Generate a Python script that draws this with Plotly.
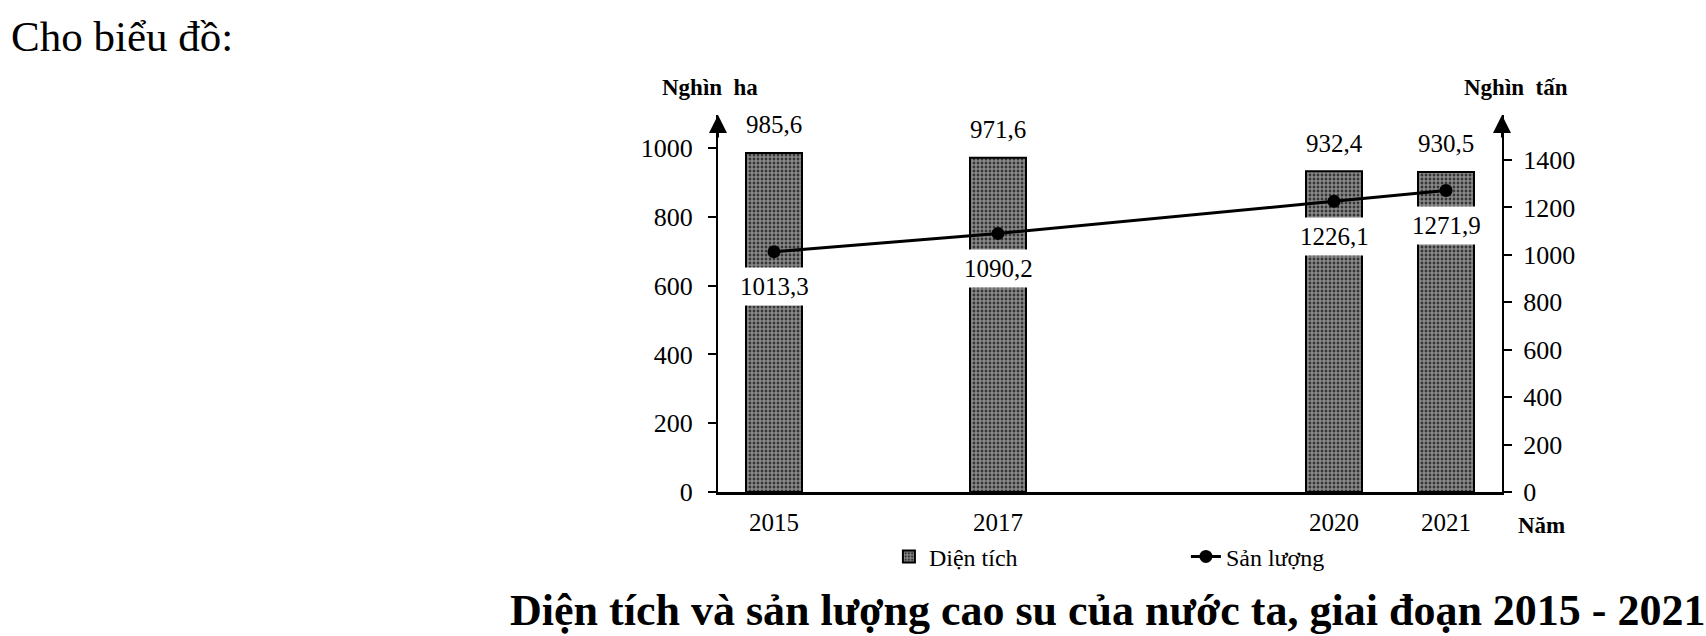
import plotly.graph_objects as go

# data
years = [2015, 2017, 2020, 2021]
dien_tich = [985.6, 971.6, 932.4, 930.5]      # nghìn ha
san_luong = [1013.3, 1090.2, 1226.1, 1271.9]  # nghìn tấn
left_ticks = [0, 200, 400, 600, 800, 1000]
right_ticks = [0, 200, 400, 600, 800, 1000, 1200, 1400]


def vn(v):
    return f"{v:.1f}".replace(".", ",")


FONT = "Liberation Serif, Times New Roman, serif"

fig = go.Figure()

# bars - dien tich
fig.add_trace(go.Bar(
    x=years, y=dien_tich, width=0.5, name="Diện tích",
    marker=dict(color="white", line=dict(color="black", width=2),
                pattern=dict(shape=".", fgcolor="white", bgcolor="#111111",
                             size=4, solidity=0.75, fillmode="overlay")),
))

# line - san luong
fig.add_trace(go.Scatter(
    x=years, y=san_luong, yaxis="y2", name="Sản lượng",
    mode="lines+markers",
    line=dict(color="black", width=3),
    marker=dict(color="black", size=13),
))

annos = []
# values above bars
for x, v in zip(years, dien_tich):
    annos.append(dict(x=x, y=v, xref="x", yref="y", text=vn(v), showarrow=False,
                      yanchor="middle", yshift=28, font=dict(size=25)))
# values under line points (white boxes over the bars)
for x, v in zip(years, san_luong):
    annos.append(dict(x=x, y=v, xref="x", yref="y2", text=vn(v), showarrow=False,
                      yanchor="middle", yshift=-35, bgcolor="white", borderpad=5,
                      font=dict(size=25)))

# axis arrows
for xp in (0, 1):
    annos.append(dict(x=xp, y=1, xref="paper", yref="paper", text="", showarrow=True,
                      ax=0, ay=24, arrowhead=2, arrowsize=1.8, arrowwidth=2,
                      arrowcolor="black", standoff=0))


def label(x, y, text, size, xanchor="center"):
    return dict(x=x, y=y, xref="paper", yref="paper", text=text, showarrow=False,
                xanchor=xanchor, yanchor="middle", font=dict(size=size))


# axis titles and captions
annos += [
    label(-0.0102, 1.074, "<b>Nghìn  ha</b>", 23),
    label(1.018, 1.074, "<b>Nghìn  tấn</b>", 23),
    label(1.051, -0.090, "<b>Năm</b>", 23),
    label(-0.904, 1.2095, "Cho biểu đồ:", 43, xanchor="left"),
    label(0.497, -0.313,
          "<b>Diện tích và sản lượng cao su của nước ta, giai đoạn 2015 - 2021</b>", 44),
]

fig.update_layout(
    width=1706, height=636,
    margin=dict(l=718, r=204, t=115, b=144),
    paper_bgcolor="white", plot_bgcolor="white",
    font=dict(family=FONT, size=25, color="black"),
    showlegend=True,
    legend=dict(orientation="h", x=0.218, xanchor="left", y=-0.172, yanchor="middle",
                entrywidth=252, entrywidthmode="pixels", font=dict(size=24),
                bgcolor="rgba(0,0,0,0)"),
    annotations=annos,
    xaxis=dict(range=[2014.5, 2021.5], tickvals=years, ticktext=[str(y) for y in years],
               showgrid=False, zeroline=False, showline=True, linecolor="black",
               linewidth=3, ticks="", ticklabelstandoff=6, tickfont=dict(size=25)),
    yaxis=dict(range=[0, 1096], tickvals=left_ticks, showgrid=False, zeroline=False,
               showline=True, linecolor="black", linewidth=2, ticks="outside",
               ticklen=8, tickwidth=2, tickcolor="black", ticklabelstandoff=10,
               tickfont=dict(size=26)),
    yaxis2=dict(range=[0, 1590], tickvals=right_ticks, overlaying="y", side="right",
                anchor="x", showgrid=False, zeroline=False, showline=True,
                linecolor="black", linewidth=2, ticks="outside", ticklen=8,
                tickwidth=2, tickcolor="black", ticklabelstandoff=6,
                tickfont=dict(size=26)),
)

fig.write_html("out.html", config={"displayModeBar": False},
               post_script="document.body.style.margin='0';")
